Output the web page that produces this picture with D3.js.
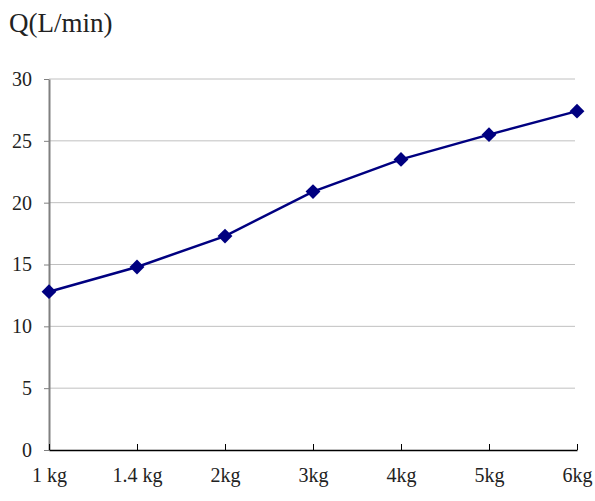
<!DOCTYPE html>
<html>
<head>
<meta charset="utf-8">
<script src="https://cdn.jsdelivr.net/npm/d3@7"></script>
<style>
  body { margin: 0; background: #fff; }
</style>
</head>
<body>
<svg id="chart" width="595" height="501"></svg>
<script>
// chart data
const categories = ["1 kg", "1.4 kg", "2kg", "3kg", "4kg", "5kg", "6kg"];
const flowValues = [12.8, 14.8, 17.3, 20.9, 23.5, 25.5, 27.4];
const yTicks = [0, 5, 10, 15, 20, 25, 30];

const plotLeft = 49, plotRight = 577, plotTop = 79, plotBottom = 450;
const serif = "'Liberation Serif', 'DejaVu Serif', serif";

const svg = d3.select("#chart");

const xScale = d3.scalePoint()
    .domain(categories)
    .range([plotLeft, plotRight]);

const yScale = d3.scaleLinear()
    .domain([0, 30])
    .range([plotBottom, plotTop]);

// gridlines
svg.append("g")
    .selectAll("line")
    .data(yTicks.filter(t => t > 0))
    .join("line")
    .attr("x1", plotLeft)
    .attr("x2", plotRight - 2)
    .attr("y1", d => yScale(d))
    .attr("y2", d => yScale(d))
    .attr("stroke", "#c0c0c0")
    .attr("stroke-width", 1);

// y axis
const yAxis = svg.append("g")
    .attr("transform", `translate(${plotLeft},0)`)
    .call(d3.axisLeft(yScale).tickValues(yTicks).tickSize(5).tickPadding(12).tickSizeOuter(0));
yAxis.attr("font-family", serif).attr("font-size", 20);
yAxis.select(".domain").attr("stroke", "#808080").attr("stroke-width", 2);
yAxis.selectAll(".tick line").attr("stroke", "#808080");
yAxis.selectAll(".tick text").attr("fill", "#222");

// x axis
const xAxis = svg.append("g")
    .attr("transform", `translate(0,${plotBottom})`)
    .call(d3.axisBottom(xScale).tickSize(-6).tickPadding(18).tickSizeOuter(0));
xAxis.attr("font-family", serif).attr("font-size", 20);
xAxis.select(".domain").attr("stroke", "#000").attr("stroke-width", 1.5);
xAxis.selectAll(".tick line").attr("stroke", "#000");
xAxis.selectAll(".tick text").attr("fill", "#222");

// title
svg.append("text")
    .attr("x", 9)
    .attr("y", 32)
    .attr("font-family", serif)
    .attr("font-size", 27)
    .attr("fill", "#222")
    .text("Q(L/min)");

// line
const line = d3.line()
    .x((d, i) => xScale(categories[i]))
    .y(d => yScale(d));

svg.append("path")
    .datum(flowValues)
    .attr("d", line)
    .attr("fill", "none")
    .attr("stroke", "#000080")
    .attr("stroke-width", 2.5);

// diamond markers
svg.append("g")
    .selectAll("path")
    .data(flowValues)
    .join("path")
    .attr("transform", (d, i) => `translate(${xScale(categories[i])},${yScale(d)})`)
    .attr("d", d3.symbol().type(d3.symbolDiamond2).size(140))
    .attr("fill", "#000080");
</script>
</body>
</html>
